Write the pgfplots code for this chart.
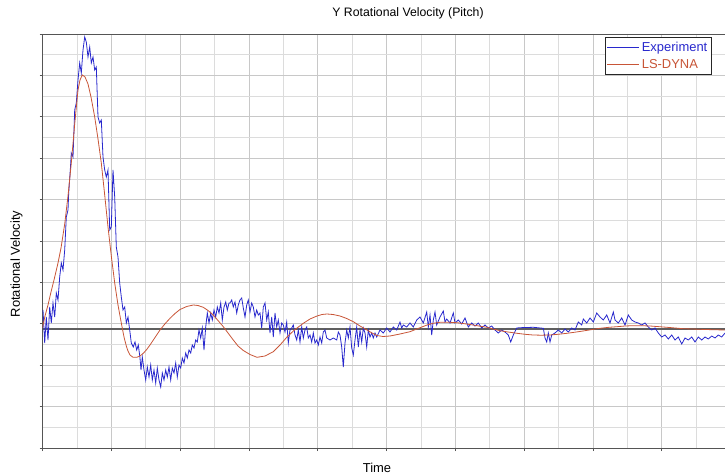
\documentclass[border=0pt]{standalone}
\usepackage{fontspec}
\setmainfont{Liberation Sans}
\usepackage{pgfplots}
\pgfplotsset{compat=1.18}
\definecolor{expblue}{RGB}{40,40,205}
\definecolor{dynared}{RGB}{200,85,55}
\definecolor{gridminor}{RGB}{220,220,220}
\definecolor{gridmajor}{RGB}{200,200,200}
\definecolor{axisgray}{RGB}{85,85,85}
\definecolor{zerogray}{RGB}{95,95,95}
\begin{document}
\begin{tikzpicture}[x=1bp,y=1bp]
\useasboundingbox (0,0) rectangle (725,476);
\begin{axis}[
  at={(42.5bp,28bp)}, anchor=south west,
  scale only axis, width=684.5bp, height=414bp,
  xmin=42.5, xmax=727, ymin=34, ymax=448, y dir=reverse,
  xtick={42.5,111.3,180.1,248.9,317.7,386.5,455.3,524.1,592.9,661.7},
  minor xtick={76.9,145.7,214.5,283.3,352.1,420.9,489.7,558.5,627.3,696.1},
  ytick={34,75.4,116.8,158.2,199.6,241,282.4,323.8,365.2,406.6,448},
  minor ytick={54.7,96.1,137.5,178.9,220.3,261.7,303.1,344.5,385.9,427.3},
  xticklabels={}, yticklabels={},
  xtick pos=bottom, ytick pos=left,
  grid=both,
  major grid style={gridmajor, line width=0.6bp},
  minor grid style={gridminor, line width=0.6bp},
  tick style={axisgray, line width=0.6bp},
  tick align=outside, major tick length=3bp, minor tick length=0bp,
  axis line style={axisgray, line width=0.8bp},
  legend style={at={(axis cs:711,37)}, anchor=north east, draw=black!85, fill=white,
    font=\fontsize{13}{15}\selectfont, inner xsep=1.5bp, inner ysep=2.5bp, row sep=3bp},
  legend cell align=left,
  legend image code/.code={\draw[#1] (0bp,0bp) -- (32bp,0bp);},
]
\addplot[zerogray, line width=1.5bp, forget plot] coordinates {(42.5,329) (727,329)};
\addplot[expblue, line width=0.8bp] coordinates {
(43,310) (44.7,343) (46.3,317) (48,340) (49.7,307) (51.3,323) (53,303) (54.7,317) (56.3,293) (58,300)
(59.7,277) (61.3,263) (63,270) (64.7,250) (66.3,217) (68,210) (68.7,193) (70.3,170) (71.3,153) (73,157)
(74.7,110) (76.3,103) (78,80) (79.7,63) (81.3,73) (83,50) (84.7,37) (86.3,42) (88,57) (89.7,47)
(91.3,63) (93,57) (94.7,70) (96.3,67) (98,117) (99.7,123) (101.3,120) (103,157) (104.7,170) (106.3,177)
(108,170) (109.7,230) (111.3,227) (113,170) (114.7,197) (116.3,247) (118,257)
(119.7,283) (121.3,297) (123,310) (124.7,307) (126.3,323) (128,317) (129.7,330) (131.3,343) (133.3,347) (135,342)
(136.7,350) (138.3,345) (140,358) (141,370) (142.3,357) (144,370) (145.7,380) (147.3,367) (149,377) (150.7,365)
(152.3,380) (154,370) (155.7,383) (157.3,368) (159,380) (160.7,387) (162.3,373) (164,380) (165.7,370) (167.3,377)
(169,367) (170.7,380) (172.3,368) (174,373) (175.7,363) (177.3,377) (179,365) (180.7,368) (182.3,358) (184,363)
(185.7,353) (187.3,358) (189,350) (190.7,353) (192.3,345) (194,348) (195.7,340) (197.3,342) (199,330) (200.7,338)
(202.3,328) (204,350) (205.7,327) (207.3,313) (209,323) (210.7,313) (212.3,320) (214,310) (215.7,317) (217.3,307)
(219,313) (220.7,303) (222.3,320) (224,307) (225.7,302) (227.3,310) (229,303)
(230,303) (231.7,300) (233.3,307) (235,302) (236.7,313) (238.3,305) (240,300) (241.7,298) (243.3,308) (245,317)
(246.7,305) (248.3,300) (250,312) (251.7,303) (253.3,307) (255,317) (256.7,310) (258.3,315) (260,313) (261.7,328)
(263.3,307) (265,303) (266.7,320) (268.3,312) (270,333) (271.7,317) (273.3,337) (275,313) (276.7,327) (278.3,320)
(280,333) (281.7,323) (283.3,325) (285,332) (286.7,322) (288.3,343) (290,330) (291.7,328) (293.3,325) (295,335)
(296.7,340) (298.3,330) (300,342) (301.7,327) (303.3,338) (305,330) (306.7,327) (308.3,338) (310,335) (311.7,342)
(313.3,333) (315,343) (316.7,340) (318.3,345) (320,337) (321.7,343) (323.3,332) (325,330) (326.7,338) (330,340)
(333.3,338) (336.7,340) (338.3,332) (340,335) (341.7,347) (343.3,367) (345,343) (346.7,330) (348.3,338) (350,327)
(351.7,348) (353.3,355) (355,340) (356.7,327) (358.3,347) (360,330) (361.7,342) (363.3,328) (365,333) (366.7,347)
(368.3,330) (370,337) (371.7,333) (373.3,338) (375,333)
(376.7,337) (380,330) (383.3,333) (386.7,328) (390,332) (393.3,327) (396.7,330) (400,322) (401.7,328) (403.3,325)
(406.7,327) (410,323) (413.3,327) (416.7,320) (420,317) (423.3,323) (426.7,312) (428.3,327) (430,315) (431.7,335)
(433.3,320) (435,312) (436.7,325) (440,317) (443.3,311) (445,322) (446.7,319) (450,323) (453.3,313) (455,323)
(458.3,320) (461.7,324) (465,318) (468.3,327) (471.7,323) (475,326) (478.3,323) (481.7,328) (485,325) (488.3,328)
(491.7,326) (495,330) (498.3,333) (501.7,330) (505,332) (508.3,335) (510.7,342) (513.3,335) (516.7,328) (520,327.7)
(533.3,327.3) (543.3,328.3) (545,338) (546.7,342) (548.3,333) (550,342) (551.7,335) (555,333) (558.3,330) (561.7,333)
(565,329) (568.3,332) (571.7,328) (575,330) (578.3,322) (581.7,325) (583.3,319) (586.7,323) (590,318) (593.3,322)
(596.7,313) (600,317) (603.3,320) (606.7,315) (610,323) (613.3,312) (615,320) (618.3,323) (621.7,318) (625,325)
(628.3,315) (631.7,320) (635,322) (638.3,323) (641.7,325) (645,323) (648.3,327) (651.7,330) (655,328) (658.3,333)
(661.7,337) (665,335) (668.3,339) (671.7,335) (675,340) (678.3,337) (681.7,344) (685,338) (688.3,340) (691.7,337)
(695,342) (698.3,337) (701.7,340) (705,337) (708.3,339) (711.7,336) (715,338) (718.3,335) (721.7,337) (725,333)
};
\addlegendentry{\textcolor{expblue}{Experiment}}
\addplot[dynared, line width=0.8bp] coordinates {
(42.5,328) (45,316) (48,305) (51,292) (54,280) (58,263) (61,248) (64.7,224) (68,196) (71.3,163)
(74.7,124) (78,90) (80,80) (82.3,75) (85,77) (88,84) (91,97) (94.7,117) (98,139) (101.3,163)
(104.7,195) (108,227) (111.3,256) (114.7,283) (118,305) (121.3,323) (124,337) (126.3,346) (128,351) (130,355)
(133,357.3) (136.7,357.3) (140,356) (143.3,353.3) (146.7,349.5) (150,345) (155,337.5) (160,330) (165,323.8) (170,318.3)
(175,313.5) (180,309.5) (186.7,306.5) (193.3,305) (198,305.5) (203.3,307.3) (208,310.5) (213.3,315) (218,320.5) (223.3,326.7)
(228,333) (233.3,340) (238,346) (243.3,350.5) (250,354.5) (257,357.3) (265,356) (273.3,351.7) (280,345) (287,337)
(295,329.5) (303.3,323.3) (310,319) (317,316) (322,314.5) (327,314) (333,314.5) (340,316) (346.7,318.5) (353.3,321.7)
(360,326) (367,330) (372,333) (377,335.5) (383,336.5) (390,336) (400,334) (410,331.7) (418,328.5) (427,325)
(433,323.3) (440,322.3) (448,322.2) (457,322.7) (465,323.8) (473,325) (480,326.2) (487,327.3) (493,329) (500,330.7)
(508,332) (517,333.3) (525,334.3) (533,335) (541,335.2) (550,335) (558,334.3) (567,333.3) (575,332.2) (583,331)
(591,329.7) (600,328.3) (608,327.4) (617,326.7) (625,326) (633,325.7) (641,325.7) (650,326) (658,326.6) (667,327.3)
(675,328) (683,328.7) (692,329) (700,329.3) (712,329.7) (725,330)
};
\addlegendentry{\textcolor{dynared}{LS-DYNA}}
\end{axis}
\node[font=\fontsize{12.3}{14}\selectfont, anchor=base] at (408,459) {Y Rotational Velocity (Pitch)};
\node[font=\fontsize{13}{15}\selectfont, anchor=base] at (377,3) {Time};
\node[font=\fontsize{13}{15}\selectfont, rotate=90] at (16.5,212) {Rotational Velocity};
\end{tikzpicture}
\end{document}
